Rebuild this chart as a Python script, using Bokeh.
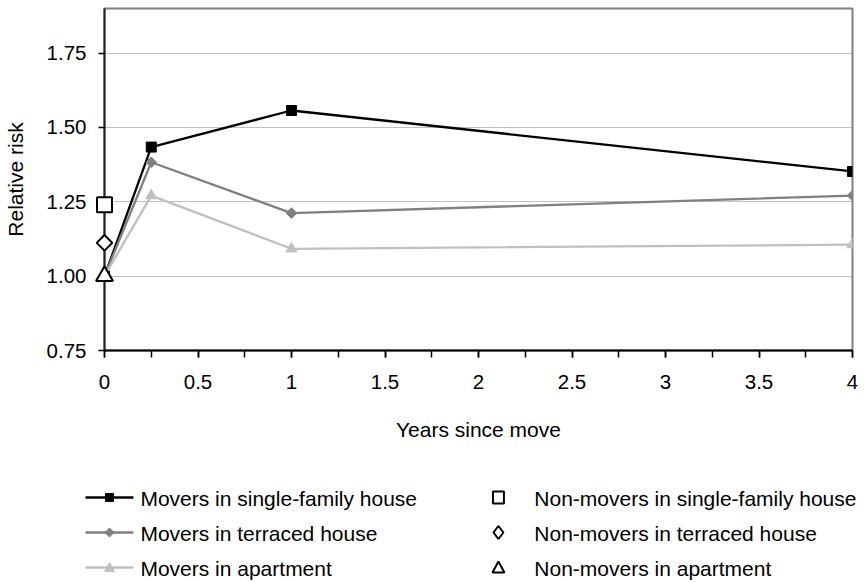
import numpy as np
from bokeh.plotting import figure
from bokeh.models import (Range1d, SingleIntervalTicker, FixedTicker,
                          NumeralTickFormatter, CustomJSTickFormatter)
from bokeh.core.properties import value
from bokeh.embed import file_html
from bokeh.resources import INLINE

# ---- data ----
years = [0, 0.25, 1, 4]
movers_single = [1.00, 1.434, 1.557, 1.352]
movers_terraced = [1.00, 1.383, 1.212, 1.271]
movers_apartment = [1.00, 1.271, 1.092, 1.106]
nonmover_x = [0]
nonmover_single = [1.24]
nonmover_terraced = [1.112]
nonmover_apartment = [1.00]
y_ticks = [0.75, 1.00, 1.25, 1.50, 1.75]

labels_movers = ["Movers in single-family house", "Movers in terraced house", "Movers in apartment"]
labels_non = ["Non-movers in single-family house", "Non-movers in terraced house", "Non-movers in apartment"]

FONT = "Liberation Sans"
BLACK = "#000000"
MID = "#808080"
LIGHT = "#c0c0c0"

# ---- layout (pixels) ----
W, H = 866, 582
FRAME_L, FRAME_R, FRAME_T, FRAME_B = 102, 852, 8, 350
X0, X1, Y0, Y1 = 0, 4, 0.75, 1.9

p = figure(width=W, height=H, x_range=Range1d(X0, X1), y_range=Range1d(Y0, Y1),
           output_backend="svg", toolbar_location=None,
           min_border_left=FRAME_L, min_border_right=W - FRAME_R,
           min_border_top=FRAME_T, min_border_bottom=H - FRAME_B)
p.background_fill_color = "white"
p.border_fill_color = "white"
p.outline_line_color = MID
p.outline_line_width = 2

# grid
p.xgrid.visible = False
p.ygrid.ticker = FixedTicker(ticks=y_ticks)
p.ygrid.grid_line_color = "#808080"
p.ygrid.grid_line_dash = "1 1"
p.ygrid.grid_line_width = 1

# axes
xa = p.xaxis[0]
xa.ticker = SingleIntervalTicker(interval=0.5, num_minor_ticks=2)
xa.formatter = CustomJSTickFormatter(code="return String(Math.round(tick*100)/100)")
xa.major_tick_out = 7
xa.major_tick_in = 0
xa.minor_tick_out = 7
xa.minor_tick_in = 0
xa.axis_line_color = BLACK
xa.axis_line_width = 2
xa.major_tick_line_color = BLACK
xa.minor_tick_line_color = BLACK
xa.major_tick_line_width = 1.5
xa.minor_tick_line_width = 1.5
xa.major_label_text_font = FONT
xa.major_label_text_font_size = "20.5px"
xa.major_label_text_color = BLACK
xa.major_label_standoff = 17
xa.axis_label = "Years since move"
xa.axis_label_text_font = FONT
xa.axis_label_text_font_size = "21px"
xa.axis_label_text_font_style = "normal"
xa.axis_label_text_color = BLACK
xa.axis_label_standoff = 26

ya = p.yaxis[0]
ya.ticker = FixedTicker(ticks=y_ticks)
ya.formatter = NumeralTickFormatter(format="0.00")
ya.major_tick_out = 6
ya.major_tick_in = 0
ya.minor_tick_line_color = None
ya.axis_line_color = "#222222"
ya.axis_line_width = 2
ya.major_tick_line_color = BLACK
ya.major_tick_line_width = 1.5
ya.major_label_text_font = FONT
ya.major_label_text_font_size = "20.5px"
ya.major_label_text_color = BLACK
ya.major_label_standoff = 12
ya.axis_label = "Relative risk"
ya.axis_label_text_font = FONT
ya.axis_label_text_font_size = "21px"
ya.axis_label_text_font_style = "normal"
ya.axis_label_text_color = BLACK
ya.axis_label_standoff = 17

# movers
p.line(years, movers_single, line_color=BLACK, line_width=2.3)
p.scatter(years, movers_single, marker="square", size=10, fill_color=BLACK, line_color=BLACK)
p.line(years, movers_terraced, line_color=MID, line_width=2.3)
p.scatter(years, movers_terraced, marker="square", angle=np.pi / 4, size=7.5,
          fill_color=MID, line_color=MID)
p.line(years, movers_apartment, line_color=LIGHT, line_width=2.3)
p.scatter(years, movers_apartment, marker="triangle", size=11, fill_color=LIGHT, line_color=LIGHT)

# non-movers (overlay level so that the markers sitting on the axis are not cut)
p.scatter(nonmover_x, nonmover_single, marker="square", size=15, fill_color="white",
          line_color=BLACK, line_width=2, level="overlay")
p.scatter(nonmover_x, nonmover_terraced, marker="square", angle=np.pi / 4, size=11,
          fill_color="white", line_color=BLACK, line_width=2, level="overlay")
p.scatter(nonmover_x, nonmover_apartment, marker="triangle", size=17, fill_color="white",
          line_color=BLACK, line_width=2, level="overlay")

# ---- legend (screen pixel positions converted to data space) ----
KX = (X1 - X0) / (FRAME_R - FRAME_L)
KY = (Y1 - Y0) / (FRAME_B - FRAME_T)

def sx(px):
    return X0 + (px - FRAME_L) * KX

def sy(py):
    return Y0 + (FRAME_B - py) * KY

def key_shape(kind, cx, cy, w, h):
    if kind == "square":
        pts = [(-w / 2, -h / 2), (w / 2, -h / 2), (w / 2, h / 2), (-w / 2, h / 2)]
    elif kind == "diamond":
        pts = [(0, -h / 2), (w / 2, 0), (0, h / 2), (-w / 2, 0)]
    else:  # triangle, apex up
        pts = [(0, -h * 0.55), (w / 2, h * 0.45), (-w / 2, h * 0.45)]
    xs = [sx(cx + dx) for dx, dy in pts]
    ys = [sy(cy + dy) for dx, dy in pts]
    return xs, ys

row_glyph = [497, 532, 567]
row_text = [498, 533, 568]
col1_line = (83, 131)
col1_mark = 107
col1_text = 138
col2_mark = 497
col2_text = 533

mover_keys = [
    (BLACK, "square", 8, 8),
    (MID, "diamond", 9, 9),
    (LIGHT, "triangle", 10, 9),
]
for (color, kind, w, h), ry, ty, lab in zip(mover_keys, row_glyph, row_text, labels_movers):
    p.segment(x0=[sx(col1_line[0])], y0=[sy(ry)], x1=[sx(col1_line[1])], y1=[sy(ry)],
              line_color=color, line_width=2.3, level="overlay")
    xs, ys = key_shape(kind, col1_mark, ry, w, h)
    p.patch(xs, ys, fill_color=color, line_color=color, line_width=1, level="overlay")
    p.text([sx(col1_text)], [sy(ty)], text=[lab], text_font=value(FONT), text_font_size="21px",
           text_color=BLACK, text_baseline="middle", text_align="left", level="overlay")

non_keys = [
    ("square", 11, 12),
    ("diamond", 10, 13),
    ("triangle", 12, 11),
]
for (kind, w, h), ry, ty, lab in zip(non_keys, row_glyph, row_text, labels_non):
    xs, ys = key_shape(kind, col2_mark, ry, w, h)
    p.patch(xs, ys, fill_color="white", line_color=BLACK, line_width=2, level="overlay")
    p.text([sx(col2_text)], [sy(ty)], text=[lab], text_font=value(FONT), text_font_size="21px",
           text_color=BLACK, text_baseline="middle", text_align="left", level="overlay")

open("out.html", "w").write(file_html(p, INLINE))
